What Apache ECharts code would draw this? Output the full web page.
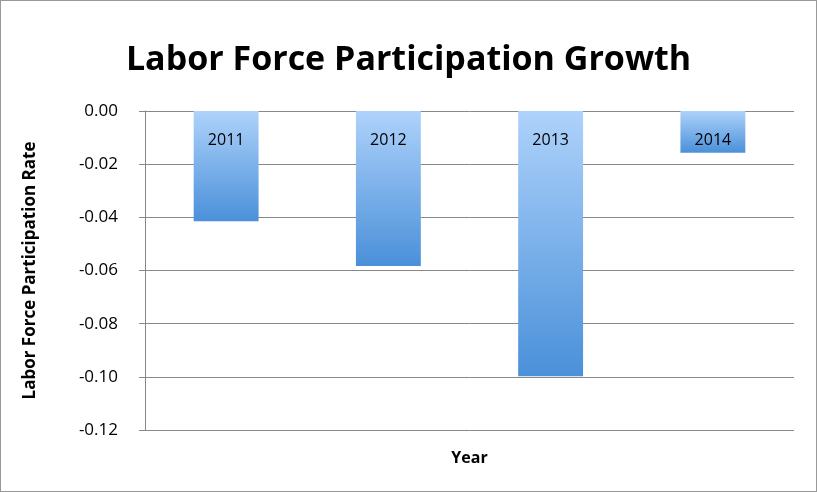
<!DOCTYPE html>
<html><head><meta charset="utf-8">
<script src="https://cdn.jsdelivr.net/npm/echarts@6/dist/echarts.min.js"></script>
<style>html,body{margin:0;padding:0;background:#fff}#c{width:817px;height:492px;box-sizing:border-box;border:1px solid #999}</style>
</head><body><div id="c"></div>
<script>
const categories = ['2011','2012','2013','2014'];
const values = [-0.0415, -0.0583, -0.0998, -0.0157];
const yTicks = [-0.12,-0.10,-0.08,-0.06,-0.04,-0.02,0];
const chart = echarts.init(document.getElementById('c'));
chart.setOption({
  animation:false,
  title:{text:'Labor Force Participation Growth',left:'center',top:37,textStyle:{fontFamily:'Open Sans',fontWeight:'bold',fontSize:34,color:'#000'}},
  grid:{left:144,right:22,top:110,bottom:61},
  xAxis:{type:'category',data:categories,name:'Year',nameLocation:'middle',nameGap:20,
    nameTextStyle:{fontFamily:'Open Sans',fontWeight:'bold',fontSize:16,color:'#000'},
    axisLine:{show:false},axisTick:{show:false},axisLabel:{show:false}},
  yAxis:{type:'value',min:-0.12,max:0,interval:0.02,
    name:'Labor Force Participation Rate',nameLocation:'middle',nameGap:106,
    nameTextStyle:{fontFamily:'Open Sans',fontWeight:'bold',fontSize:17,color:'#000'},
    axisLine:{show:true,lineStyle:{color:'#888'}},axisTick:{show:true,length:6,lineStyle:{color:'#888'}},
    axisLabel:{fontFamily:'Open Sans',fontSize:17,color:'#000',margin:27,formatter:v=>v.toFixed(2)},
    splitLine:{lineStyle:{color:'#888'}}},
  series:[{type:'bar',data:values,barWidth:'40%',
    itemStyle:{color:{type:'linear',x:0,y:0,x2:0,y2:1,colorStops:[{offset:0,color:'#aed2fb'},{offset:1,color:'#4a90d9'}]}},
    label:{show:true,position:'insideTop',distance:21,formatter:p=>p.name,fontFamily:'Open Sans',fontSize:16,color:'#000'}}]
});
</script></body></html>
